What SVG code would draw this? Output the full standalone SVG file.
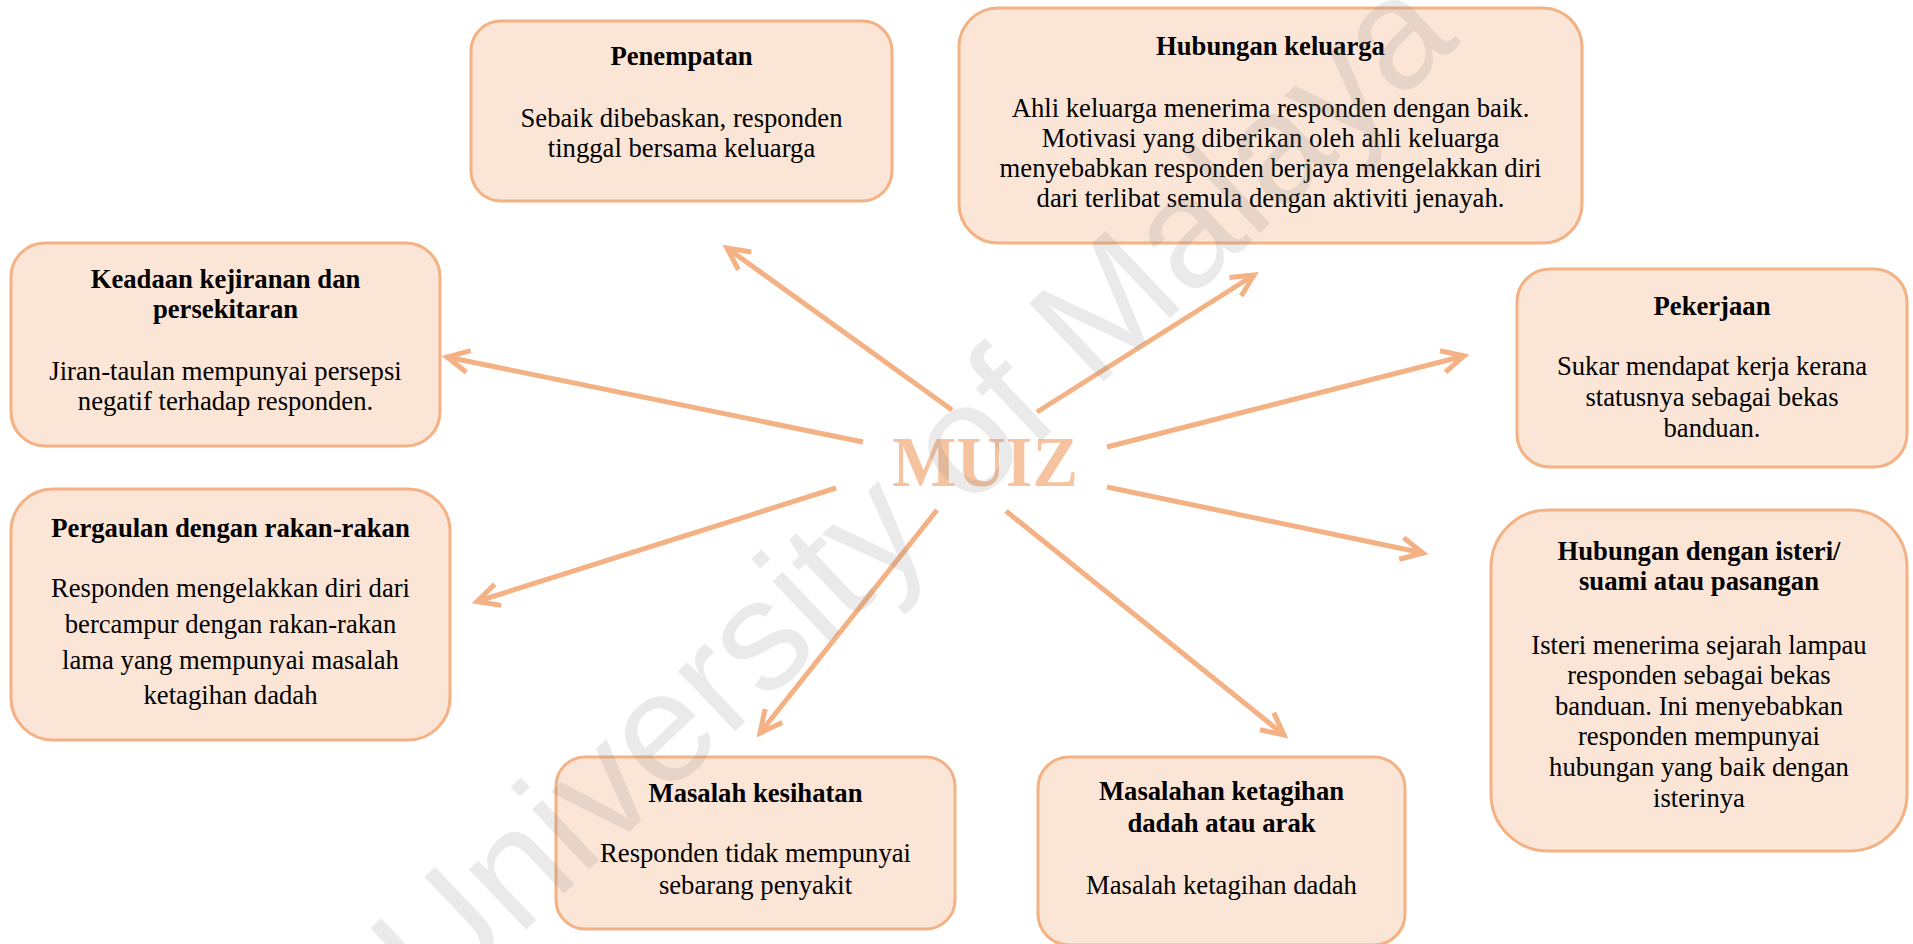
<svg xmlns="http://www.w3.org/2000/svg" width="1913" height="944" viewBox="0 0 1913 944">
<style>
.box{fill:#FBE5D6;stroke:#F4B183;stroke-width:3}
.t{font-family:"Liberation Serif","Times New Roman",serif;font-size:26.67px;fill:#000;text-anchor:middle}
.b{font-weight:bold}
.c{stroke:#F4B183;stroke-width:5;fill:none}
</style>
<defs>
<marker id="ah" markerUnits="userSpaceOnUse" viewBox="-30 -20 40 40" markerWidth="40" markerHeight="40" refX="0" refY="0" orient="auto">
<path d="M -22 -11 L 0 0 L -22 11" fill="none" stroke="#F4B183" stroke-width="5" stroke-linejoin="miter"/>
</marker>
</defs>
<rect width="1913" height="944" fill="#fff"/>
<g id="connectors">
<line class="c" x1="863" y1="442" x2="447" y2="357" marker-end="url(#ah)"/>
<line class="c" x1="952" y1="410" x2="727" y2="248" marker-end="url(#ah)"/>
<line class="c" x1="1037" y1="412" x2="1254" y2="275" marker-end="url(#ah)"/>
<line class="c" x1="1107" y1="447" x2="1464" y2="356" marker-end="url(#ah)"/>
<line class="c" x1="1107" y1="487" x2="1423" y2="553" marker-end="url(#ah)"/>
<line class="c" x1="1006" y1="511" x2="1284" y2="735" marker-end="url(#ah)"/>
<line class="c" x1="937" y1="510" x2="760" y2="733" marker-end="url(#ah)"/>
<line class="c" x1="836" y1="488" x2="477" y2="601.5" marker-end="url(#ah)"/>
</g>
<g id="center">
<text x="985" y="486" font-family="'Liberation Serif','Times New Roman',serif" font-size="72" font-weight="bold" fill="#F6C3A0" text-anchor="middle" textLength="186" lengthAdjust="spacingAndGlyphs">MUIZ</text>
</g>
<g id="penempatan">
<rect class="box" x="471" y="21" width="421" height="180" rx="30"/>
<text class="t b" x="681.5" y="65">Penempatan</text>
<text class="t" x="681.5" y="126.7">Sebaik dibebaskan, responden</text>
<text class="t" x="681.5" y="156.7">tinggal bersama keluarga</text>
</g>
<g id="hubungan-keluarga">
<rect class="box" x="959" y="8" width="623" height="235" rx="39"/>
<text class="t b" x="1270.5" y="55">Hubungan keluarga</text>
<text class="t" x="1270.5" y="116.7">Ahli keluarga menerima responden dengan baik.</text>
<text class="t" x="1270.5" y="146.8">Motivasi yang diberikan oleh ahli keluarga</text>
<text class="t" x="1270.5" y="176.9">menyebabkan responden berjaya mengelakkan diri</text>
<text class="t" x="1270.5" y="207">dari terlibat semula dengan aktiviti jenayah.</text>
</g>
<g id="keadaan">
<rect class="box" x="11" y="243" width="429" height="203" rx="34"/>
<text class="t b" x="225.5" y="288.3">Keadaan kejiranan dan</text>
<text class="t b" x="225.5" y="318.3">persekitaran</text>
<text class="t" x="225.5" y="380">Jiran-taulan mempunyai persepsi</text>
<text class="t" x="225.5" y="410">negatif terhadap responden.</text>
</g>
<g id="pekerjaan">
<rect class="box" x="1517" y="269" width="390" height="198" rx="33"/>
<text class="t b" x="1712" y="315">Pekerjaan</text>
<text class="t" x="1712" y="375">Sukar mendapat kerja kerana</text>
<text class="t" x="1712" y="406">statusnya sebagai bekas</text>
<text class="t" x="1712" y="437">banduan.</text>
</g>
<g id="pergaulan">
<rect class="box" x="11" y="489" width="439" height="251" rx="42"/>
<text class="t b" x="230.5" y="537">Pergaulan dengan rakan-rakan</text>
<text class="t" x="230.5" y="597">Responden mengelakkan diri dari</text>
<text class="t" x="230.5" y="633">bercampur dengan rakan-rakan</text>
<text class="t" x="230.5" y="668.5">lama yang mempunyai masalah</text>
<text class="t" x="230.5" y="704">ketagihan dadah</text>
</g>
<g id="hubungan-isteri">
<rect class="box" x="1491" y="510" width="416" height="341" rx="57"/>
<text class="t b" x="1699" y="560.3">Hubungan dengan isteri/</text>
<text class="t b" x="1699" y="590.3">suami atau pasangan</text>
<text class="t" x="1699" y="653.7">Isteri menerima sejarah lampau</text>
<text class="t" x="1699" y="684.2">responden sebagai bekas</text>
<text class="t" x="1699" y="714.8">banduan. Ini menyebabkan</text>
<text class="t" x="1699" y="745.4">responden mempunyai</text>
<text class="t" x="1699" y="776">hubungan yang baik dengan</text>
<text class="t" x="1699" y="806.6">isterinya</text>
</g>
<g id="masalah-kesihatan">
<rect class="box" x="556" y="757" width="399" height="172" rx="29"/>
<text class="t b" x="755.5" y="802">Masalah kesihatan</text>
<text class="t" x="755.5" y="862">Responden tidak mempunyai</text>
<text class="t" x="755.5" y="893.5">sebarang penyakit</text>
</g>
<g id="masalahan-ketagihan">
<rect class="box" x="1038" y="757" width="367" height="188" rx="31"/>
<text class="t b" x="1221.5" y="800">Masalahan ketagihan</text>
<text class="t b" x="1221.5" y="831.5">dadah atau arak</text>
<text class="t" x="1221.5" y="893.5">Masalah ketagihan dadah</text>
</g>
<text x="0" y="0" transform="translate(436,1015) rotate(-43.5)" font-family="'Liberation Sans',Arial,sans-serif" font-size="157" fill="#808080" fill-opacity="0.17">University of Malaya</text>
</svg>
